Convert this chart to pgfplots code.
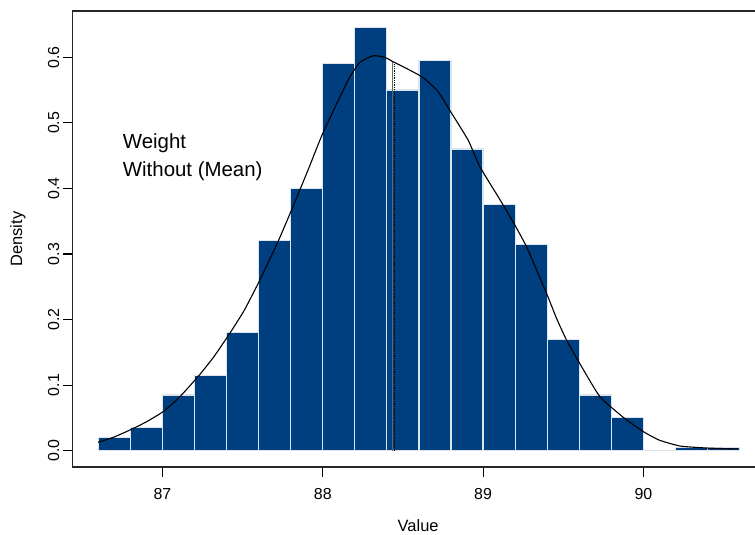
\documentclass[border=0pt]{standalone}
\usepackage{fontspec}
\setmainfont{Liberation Sans}
\usepackage{pgfplots}
\pgfplotsset{compat=1.18}
\definecolor{barblue}{HTML}{003F7F}
\definecolor{baredge}{HTML}{DCE4EE}

\begin{document}
\begin{tikzpicture}
\useasboundingbox (0,0) rectangle (755bp,535bp);
\begin{axis}[
  at={(72.7bp,68bp)}, anchor=south west,
  scale only axis,
  width=690.9bp, height=456bp,
  xmin=86.44, xmax=90.75,
  ymin=-0.0249, ymax=0.6706,
  axis line style={line width=1.1bp, black!85},
  xtick={87,88,89,90},
  ytick={0,0.1,0.2,0.3,0.4,0.5,0.6},
  yticklabels={0.0,0.1,0.2,0.3,0.4,0.5,0.6},
  xtick pos=bottom, ytick pos=left,
  tick align=outside,
  major tick length=10bp,
  tick style={line width=1.1bp, black},
  /pgf/number format/assume math mode=true,
  xticklabel style={font=\fontsize{16}{19}\selectfont, yshift=-8bp},
  yticklabel style={font=\fontsize{16}{19}\selectfont, rotate=90, anchor=south},
  every axis x label/.style={at={(axis description cs:0.5,-0.128)}, anchor=center,
    font=\fontsize{16.5}{19}\selectfont},
  every axis y label/.style={at={(axis description cs:-0.0792,0.5)}, anchor=center,
    rotate=90, font=\fontsize{16.5}{19}\selectfont},
  xlabel={Value},
  ylabel={Density},
  clip=false,
]

% histogram (density), bin width 0.2
\addplot[ybar interval, fill=barblue, draw=baredge, line width=1.2bp]
  coordinates {
    (86.6,0.020) (86.8,0.035) (87.0,0.085) (87.2,0.115) (87.4,0.180)
    (87.6,0.320) (87.8,0.400) (88.0,0.590) (88.2,0.645) (88.4,0.550)
    (88.6,0.595) (88.8,0.460) (89.0,0.375) (89.2,0.315) (89.4,0.170)
    (89.6,0.085) (89.8,0.050) (90.0,0.000) (90.2,0.005) (90.4,0.005)
    (90.6,0.005)
  };

% kernel density estimate
\addplot[black, line width=1.1bp, smooth, tension=0.3]
  coordinates {
    (86.598,0.0128) (86.70,0.021) (86.807,0.0326) (86.90,0.044)
    (87.004,0.0595) (87.10,0.080) (87.222,0.113) (87.32,0.143)
    (87.42,0.179) (87.51,0.214) (87.607,0.260)
    (87.721,0.319) (87.805,0.367) (87.908,0.428) (88.0,0.484)
    (88.158,0.565) (88.23,0.592) (88.314,0.6024) (88.387,0.600)
    (88.44,0.593) (88.53,0.582) (88.626,0.569) (88.72,0.5475)
    (88.79,0.520) (88.906,0.474) (88.98,0.433)
    (89.1,0.385) (89.187,0.349) (89.271,0.311) (89.396,0.240)
    (89.458,0.202) (89.52,0.169) (89.603,0.133) (89.73,0.082)
    (89.884,0.049) (90.0,0.029) (90.1,0.016) (90.23,0.007)
    (90.4,0.004) (90.59,0.0026)
  };

% mean / median markers
\addplot[black!60, line width=1.3bp] coordinates {(88.434,0) (88.434,0.593)};
\addplot[black, line width=1.3bp, densely dotted] coordinates {(88.446,0) (88.446,0.593)};

\node[anchor=base west, inner sep=0, font=\fontsize{20.5}{24}\selectfont]
  at (axis cs:86.752,0.4612) {Weight};
\node[anchor=base west, inner sep=0, font=\fontsize{20.5}{24}\selectfont]
  at (axis cs:86.752,0.4179) {Without (Mean)};
\end{axis}
\end{tikzpicture}
\end{document}
